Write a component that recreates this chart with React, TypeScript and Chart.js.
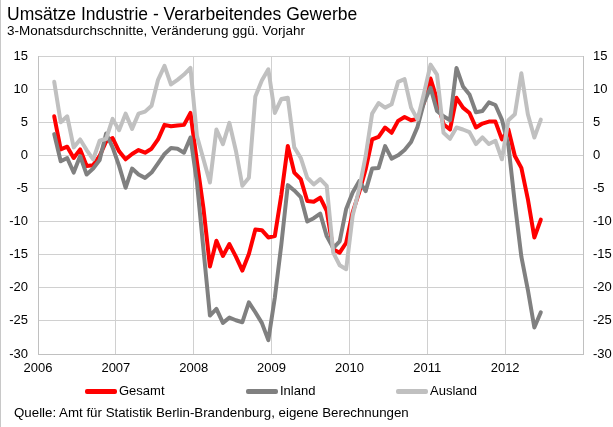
import React, { useEffect, useRef } from "react";
import { Chart, registerables } from "chart.js";

Chart.register(...registerables);

// Monthly 3-month averages, March 2006 .. June 2012
const startYear = 2006;
const startMonth = 3; // March

const gesamt = [
  5.9, 0.9, 1.3, -0.4, 0.9, -1.6, -1.5, -0.1, 2.1, 2.6,
  0.6, -0.6, 0.2, 0.8, 0.4, 1.0, 2.4, 4.6, 4.4, 4.5,
  4.6, 6.4, -1.0, -8.0, -16.8, -12.9, -15.2, -13.4, -15.3, -17.4,
  -14.9, -11.2, -11.3, -12.4, -12.2, -6.0, 1.4, -2.6, -3.6, -6.9,
  -7.0, -6.4, -8.4, -14.2, -14.7, -13.2, -8.6, -5.6, -2.1, 2.4,
  2.8, 4.2, 3.4, 5.2, 5.8, 5.3, 5.5, 8.0, 11.6, 8.4,
  4.7, 3.9, 8.7, 7.2, 6.4, 4.2, 4.8, 5.1, 5.1, 2.4,
  3.9, -0.1, -1.9, -6.6, -12.4, -9.7,
];

const inland = [
  3.2, -0.9, -0.4, -2.6, -0.1, -2.9, -2.0, -0.7, 3.3, 1.2,
  -1.6, -4.9, -2.0, -2.9, -3.4, -2.6, -1.2, 0.2, 1.1, 1.0,
  0.4, 2.7, -4.1, -14.2, -24.2, -23.2, -25.3, -24.5, -24.9, -25.2,
  -22.2, -23.7, -25.3, -27.9, -21.5, -13.5, -4.5, -5.3, -6.3, -10.0,
  -9.5, -8.8, -12.2, -14.0, -13.0, -8.1, -5.6, -3.9, -5.4, -2.0,
  -1.9, 1.4, -0.5, 0.0, 0.8, 2.0, 4.3, 8.0, 10.2, 6.7,
  5.9, 5.3, 13.2, 10.4, 9.2, 6.5, 6.7, 8.0, 7.6, 5.4,
  1.5, -7.3, -15.3, -20.3, -26.0, -23.7,
];

const ausland = [
  11.1, 5.0, 5.9, 1.2, 2.4, 0.8, -0.6, 2.2, 2.5, 5.5,
  3.8, 6.3, 4.0, 6.3, 6.6, 7.5, 11.4, 13.5, 10.7, 11.4,
  12.2, 13.2, 2.9, -0.6, -4.1, 3.9, 1.7, 4.9, 0.7, -4.6,
  -3.4, 8.9, 11.3, 13.0, 6.4, 8.5, 8.7, 1.2, -0.4, -3.4,
  -4.4, -3.6, -4.6, -14.7, -16.6, -17.2, -9.1, -5.1, -0.1, 6.3,
  7.9, 7.2, 7.7, 11.1, 11.5, 7.2, 5.4, 9.4, 13.7, 12.2,
  3.4, 2.5, 4.2, 3.9, 3.5, 1.7, 2.7, 1.7, 2.2, -0.6,
  5.3, 6.2, 12.4, 6.2, 2.7, 5.4,
];

const yearLabels = ["2006", "2007", "2008", "2009", "2010", "2011", "2012"];
const seriesNames = ["Gesamt", "Inland", "Ausland"];
const seriesColors = ["#ff0000", "#808080", "#c0c0c0"];

const titleText = "Umsätze Industrie - Verarbeitendes Gewerbe";
const subtitleText = "3-Monatsdurchschnitte, Veränderung ggü. Vorjahr";
const sourceText = "Quelle: Amt für Statistik Berlin-Brandenburg, eigene Berechnungen";

const FONT = "'Liberation Sans', Arial, sans-serif";

function toPoints(values: number[]) {
  return values.map((v, i) => ({
    x: startYear + (startMonth - 1 + i + 0.5) / 12,
    y: v,
  }));
}

export default function App() {
  const canvasRef = useRef<HTMLCanvasElement | null>(null);

  useEffect(() => {
    if (!canvasRef.current) return;
    const allSeries = [gesamt, inland, ausland];
    const chart = new Chart(canvasRef.current, {
      type: "line",
      data: {
        datasets: allSeries.map((vals, i) => ({
          label: seriesNames[i],
          data: toPoints(vals),
          borderColor: seriesColors[i],
          backgroundColor: seriesColors[i],
          borderWidth: 4,
          pointRadius: 0,
          tension: 0,
          borderJoinStyle: "round" as const,
          borderCapStyle: "round" as const,
          yAxisID: "y",
          order: 2 - i,
        })),
      },
      options: {
        responsive: false,
        animation: false,
        layout: { padding: { top: 56, bottom: 53, left: 0, right: 0 } },
        plugins: {
          legend: { display: false },
          tooltip: { enabled: false },
        },
        scales: {
          x: {
            type: "linear",
            min: 2006,
            max: 2013,
            ticks: {
              stepSize: 1,
              padding: 7,
              color: "#000",
              font: { family: FONT, size: 13 },
              maxRotation: 0,
              callback: (v: any) => {
                const idx = Math.round(Number(v)) - startYear;
                return yearLabels[idx] ?? "";
              },
            },
            grid: { color: "#d0d0d0", lineWidth: 1, drawTicks: false },
            border: { color: "#c0c0c0" },
            afterFit: (s: any) => {
              s.height = 20;
            },
          },
          y: {
            position: "left",
            min: -30,
            max: 15,
            ticks: {
              stepSize: 5,
              padding: 10,
              color: "#000",
              font: { family: FONT, size: 13 },
            },
            grid: { color: "#d0d0d0", lineWidth: 1, drawTicks: false },
            border: { color: "#c0c0c0" },
            afterFit: (s: any) => {
              s.width = 38;
            },
          },
          y2: {
            position: "right",
            min: -30,
            max: 15,
            ticks: {
              stepSize: 5,
              padding: 10,
              color: "#000",
              font: { family: FONT, size: 13 },
            },
            grid: { drawOnChartArea: false, drawTicks: false },
            border: { color: "#c0c0c0" },
            afterFit: (s: any) => {
              s.width = 30;
            },
          },
        },
      },
    });
    return () => chart.destroy();
  }, []);

  const legendItems = [
    { lineLeft: 85, textLeft: 119 },
    { lineLeft: 246, textLeft: 280 },
    { lineLeft: 396, textLeft: 430 },
  ];

  return (
    <div
      style={{
        position: "absolute",
        left: 0,
        top: 0,
        width: 613,
        height: 427,
        background: "#fff",
        overflow: "hidden",
        fontFamily: FONT,
        color: "#000",
      }}
    >
      <div
        style={{
          position: "absolute",
          left: 0,
          top: 0,
          width: 1,
          height: 427,
          background: "#c8c8c8",
        }}
      />
      <canvas
        ref={canvasRef}
        width={613}
        height={427}
        style={{ position: "absolute", left: 0, top: 0, width: 613, height: 427 }}
      />
      <div
        style={{
          position: "absolute",
          left: 7,
          top: 4,
          fontSize: 17.5,
          lineHeight: "20px",
          whiteSpace: "nowrap",
        }}
      >
        {titleText}
      </div>
      <div
        style={{
          position: "absolute",
          left: 7,
          top: 23,
          fontSize: 13.5,
          lineHeight: "16px",
          whiteSpace: "nowrap",
        }}
      >
        {subtitleText}
      </div>
      {seriesNames.map((name, i) => (
        <React.Fragment key={name}>
          <div
            style={{
              position: "absolute",
              left: legendItems[i].lineLeft,
              top: 389,
              width: 32,
              height: 5,
              borderRadius: 2,
              background: seriesColors[i],
            }}
          />
          <div
            style={{
              position: "absolute",
              left: legendItems[i].textLeft,
              top: 383,
              fontSize: 13,
              lineHeight: "16px",
              whiteSpace: "nowrap",
            }}
          >
            {name}
          </div>
        </React.Fragment>
      ))}
      <div
        style={{
          position: "absolute",
          left: 14,
          top: 405,
          fontSize: 13.3,
          lineHeight: "16px",
          whiteSpace: "nowrap",
        }}
      >
        {sourceText}
      </div>
    </div>
  );
}
